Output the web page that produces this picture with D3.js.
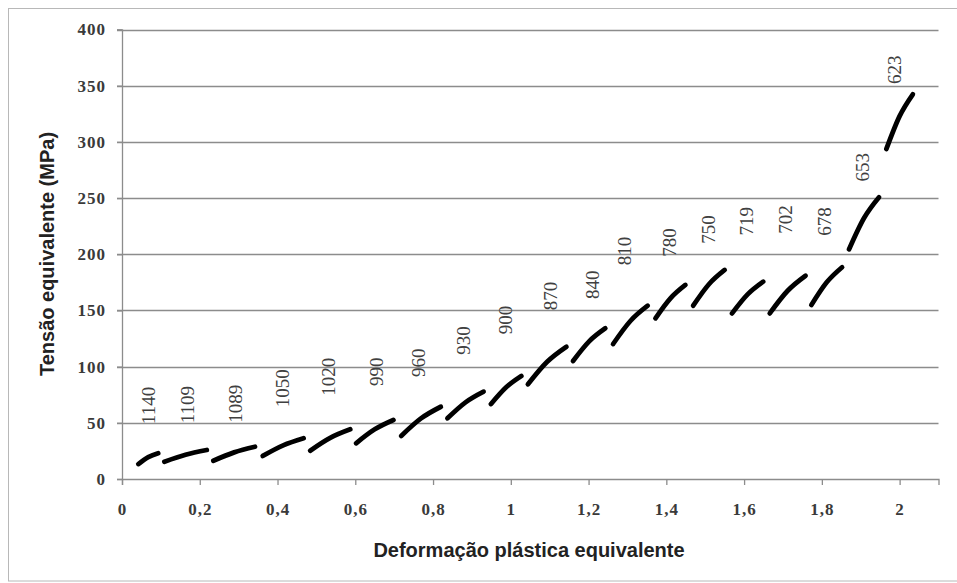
<!DOCTYPE html>
<html>
<head>
<meta charset="utf-8">
<script src="https://cdn.jsdelivr.net/npm/d3@7"></script>
<style>
  html, body { margin: 0; padding: 0; background: #fff; }
  svg { display: block; }
</style>
</head>
<body>
<svg id="chart" width="957" height="583"></svg>
<script>
// Each segment: [start, mid, end] strain values and stress values (MPa)
const segStrain = [
  [0.042, 0.0675, 0.093],
  [0.109, 0.1635, 0.218],
  [0.235, 0.2885, 0.342],
  [0.362, 0.4145, 0.467],
  [0.484, 0.5355, 0.587],
  [0.602, 0.650, 0.698],
  [0.718, 0.769, 0.820],
  [0.837, 0.8835, 0.930],
  [0.949, 0.988, 1.027],
  [1.044, 1.0935, 1.143],
  [1.160, 1.2015, 1.243],
  [1.263, 1.3075, 1.352],
  [1.372, 1.4105, 1.449],
  [1.469, 1.5095, 1.550],
  [1.569, 1.609, 1.649],
  [1.666, 1.712, 1.758],
  [1.773, 1.8125, 1.852],
  [1.870, 1.9085, 1.947],
  [1.966, 2.000, 2.034]
];
const segStress = [
  [13.3, 19.4, 22.9],
  [15.4, 21.6, 25.8],
  [16.3, 23.7, 28.7],
  [20.5, 29.9, 36.2],
  [25.2, 36.6, 44.2],
  [31.8, 44.2, 52.5],
  [38.3, 53.9, 64.3],
  [54.0, 68.2, 77.7],
  [66.7, 81.6, 91.6],
  [84.3, 104.3, 117.7],
  [105.0, 122.5, 134.1],
  [120.1, 140.6, 154.2],
  [143.0, 160.8, 172.7],
  [154.2, 173.3, 186.0],
  [147.4, 164.3, 175.6],
  [147.4, 167.5, 180.9],
  [154.8, 175.0, 188.4],
  [204.4, 232.2, 250.7],
  [293.7, 322.9, 342.3]
];
// Temperature annotations and their (center) positions in data units
const labelText = ["1140","1109","1089","1050","1020","990","960","930","900","870","840","810","780","750","719","702","678","653","623"];
const labelX = [0.068,0.168,0.291,0.413,0.532,0.654,0.763,0.878,0.986,1.102,1.209,1.292,1.409,1.509,1.605,1.706,1.807,1.904,1.987];
const labelY = [65.4,66.1,66.9,80.7,91.0,95.5,103.4,123.2,141.5,162.9,172.9,203.0,210.4,222.0,229.4,230.9,229.2,277.5,364.2];

const xTicks = [0,0.2,0.4,0.6,0.8,1,1.2,1.4,1.6,1.8,2];
const yTicks = [0,50,100,150,200,250,300,350,400];
const xTitle = "Deformação plástica equivalente";
const yTitle = "Tensão equivalente (MPa)";

const svg = d3.select("#chart");
const mLeft = 122, mRight = 938.5, mTop = 29.5, mBottom = 479;

// outer chart border
svg.append("rect").attr("x", 8.5).attr("y", 8.5).attr("width", 960).attr("height", 572.5)
  .attr("fill", "none").attr("stroke", "#b8b8b8").attr("stroke-width", 1);

const x = d3.scaleLinear().domain([0, 2.1]).range([mLeft, mRight]);
const y = d3.scaleLinear().domain([0, 400]).range([mBottom, mTop]);

const fmt = d => d3.format("")(d).replace(".", ",");

// gridlines
svg.append("g").selectAll("line").data(yTicks.filter(d => d > 0)).join("line")
  .attr("x1", mLeft - 5).attr("x2", mRight)
  .attr("y1", d => Math.round(y(d)) + 0.5).attr("y2", d => Math.round(y(d)) + 0.5)
  .attr("stroke", "#8c8c8c").attr("stroke-width", 1.3);

const tickFont = "'Liberation Serif', 'Times New Roman', serif";

// y axis
const yAxis = svg.append("g").attr("transform", `translate(${mLeft},0)`)
  .call(d3.axisLeft(y).tickValues(yTicks).tickSize(5).tickPadding(11).tickFormat(d3.format("d")));
yAxis.select(".domain").attr("stroke", "#8c8c8c").attr("stroke-width", 1.3);
yAxis.selectAll(".tick line").attr("stroke", "#8c8c8c").attr("stroke-width", 1.3);
yAxis.selectAll("text").attr("font-family", tickFont)
  .attr("font-size", 17).attr("font-weight", "bold").attr("fill", "#3a3a3a")
  .attr("letter-spacing", 1);

// x axis
const xAxis = svg.append("g").attr("transform", `translate(0,${mBottom})`)
  .call(d3.axisBottom(x).tickValues(xTicks).tickSize(6).tickPadding(18).tickFormat(fmt));
xAxis.select(".domain").attr("stroke", "#8c8c8c").attr("stroke-width", 1.3);
xAxis.selectAll(".tick line").attr("stroke", "#8c8c8c").attr("stroke-width", 1.3);
xAxis.selectAll("text").attr("font-family", tickFont)
  .attr("font-size", 17).attr("font-weight", "bold").attr("fill", "#3a3a3a")
  .attr("letter-spacing", 1);

// segments
const line = d3.line().x(d => x(d[0])).y(d => y(d[1])).curve(d3.curveMonotoneX);
svg.append("g").selectAll("path").data(segStrain.map((s, i) => s.map((v, j) => [v, segStress[i][j]])))
  .join("path")
  .attr("d", line)
  .attr("fill", "none").attr("stroke", "#000").attr("stroke-width", 4.8)
  .attr("stroke-linecap", "round");

// annotations
svg.append("g").selectAll("text").data(labelText).join("text")
  .attr("transform", (d, i) => `translate(${x(labelX[i])},${y(labelY[i])}) rotate(-90)`)
  .attr("text-anchor", "middle").attr("dominant-baseline", "central")
  .attr("font-family", "'Liberation Serif', 'Times New Roman', serif")
  .attr("font-size", 19).attr("fill", "#404040")
  .text(d => d);

// axis titles
svg.append("text").attr("x", 529).attr("y", 557)
  .attr("text-anchor", "middle")
  .attr("font-family", "'Liberation Sans', Arial, sans-serif")
  .attr("font-size", 20).attr("font-weight", "bold").attr("fill", "#222")
  .text(xTitle);
svg.append("text").attr("transform", "translate(54,254) rotate(-90)")
  .attr("text-anchor", "middle")
  .attr("font-family", "'Liberation Sans', Arial, sans-serif")
  .attr("font-size", 20).attr("font-weight", "bold").attr("fill", "#222")
  .text(yTitle);
</script>
</body>
</html>
